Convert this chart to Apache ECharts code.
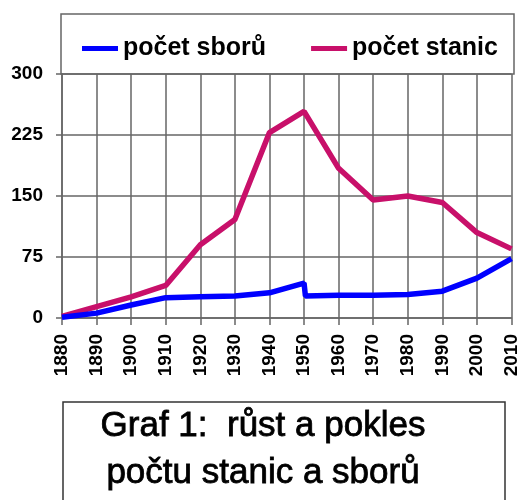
<!DOCTYPE html>
<html>
<head>
<meta charset="utf-8">
<script src="https://cdn.jsdelivr.net/npm/echarts@6/dist/echarts.min.js"></script>
<style>
html, body { margin: 0; padding: 0; background: #fff; }
#main { width: 521px; height: 500px; }
</style>
</head>
<body>
<div id="main"></div>
<script>
// roky a hodnoty
var roky = [1880, 1890, 1900, 1910, 1920, 1930, 1940, 1950, 1960, 1970, 1980, 1990, 2000, 2010];
var stanice = [2, 14, 26, 40, 90, 121, 228, 254, 184, 145, 150, 142, 105, 85];
// sbory - v roce 1950 skok dolu
var rokySbory = [1880, 1890, 1900, 1910, 1920, 1930, 1940, 1950, 1950.4, 1960, 1970, 1980, 1990, 2000, 2010];
var sbory = [1, 6, 16, 25, 26, 27, 31, 43, 27, 28, 28, 29, 33, 49, 73];
var yTicks = [0, 75, 150, 225, 300];

function pary(xs, ys) {
	var out = [];
	for (var i = 0; i < xs.length; i++) {
		out.push([xs[i], ys[i]]);
	}
	return out;
}

var myChart = echarts.init(document.getElementById('main'));
var font = 'Liberation Sans, Arial, sans-serif';

option = {
	animation: false,
	backgroundColor: '#fff',
	grid: {
		left: 62,
		right: 8,
		top: 74,
		bottom: 182
	},
	legend: {
		left: 77,
		top: 31,
		itemWidth: 36,
		itemHeight: 5,
		itemGap: 45,
		icon: 'rect',
		textStyle: {
			fontFamily: font,
			fontWeight: 'bold',
			fontSize: 25,
			color: '#000'
		},
		data: ['počet sborů', 'počet stanic']
	},
	xAxis: {
		type: 'value',
		min: 1880,
		max: 2010,
		interval: 10,
		axisLine: { show: true, lineStyle: { color: '#666', width: 1.5 } },
		axisTick: { show: true, length: 7, lineStyle: { color: '#666', width: 1.5 } },
		splitLine: { show: true, lineStyle: { color: '#666', width: 1.5 } },
		axisLabel: {
			rotate: 90,
			margin: 16,
			fontFamily: font,
			fontWeight: 'bold',
			fontSize: 19,
			color: '#000',
			formatter: function (v) { return String(v); }
		}
	},
	yAxis: {
		type: 'value',
		min: yTicks[0],
		max: yTicks[yTicks.length - 1],
		interval: 75,
		axisLine: { show: true, lineStyle: { color: '#666', width: 1.5 } },
		axisTick: { show: true, length: 6, lineStyle: { color: '#666', width: 1.5 } },
		splitLine: { show: true, lineStyle: { color: '#666', width: 1.5 } },
		axisLabel: {
			margin: 19,
			fontFamily: font,
			fontWeight: 'bold',
			fontSize: 19,
			color: '#000'
		}
	},
	graphic: [
		{
			type: 'rect',
			shape: { x: 61, y: 14, width: 453, height: 60 },
			style: { fill: 'none', stroke: '#666', lineWidth: 1.5 },
			z: 0
		},
		{
			type: 'rect',
			shape: { x: 63, y: 402, width: 442, height: 120 },
			style: { fill: '#fff', stroke: '#333', lineWidth: 1.5 }
		},
		{
			type: 'text',
			x: 263,
			y: 426,
			style: {
				text: 'Graf 1:  růst a pokles',
				font: 'normal 35px ' + font,
				fill: '#000',
				stroke: '#000',
				lineWidth: 0.8,
				align: 'center',
				verticalAlign: 'middle'
			}
		},
		{
			type: 'text',
			x: 263,
			y: 473,
			style: {
				text: 'počtu stanic a sborů',
				font: 'normal 35px ' + font,
				fill: '#000',
				stroke: '#000',
				lineWidth: 0.8,
				align: 'center',
				verticalAlign: 'middle'
			}
		}
	],
	series: [
		{
			name: 'počet sborů',
			type: 'line',
			symbol: 'none',
			color: '#0000ff',
			lineStyle: { width: 5.5, color: '#0000ff' },
			z: 3,
			data: pary(rokySbory, sbory)
		},
		{
			name: 'počet stanic',
			type: 'line',
			symbol: 'none',
			color: '#c8106a',
			lineStyle: { width: 5.5, color: '#c8106a' },
			z: 2,
			data: pary(roky, stanice)
		}
	]
};

myChart.setOption(option);
</script>
</body>
</html>
